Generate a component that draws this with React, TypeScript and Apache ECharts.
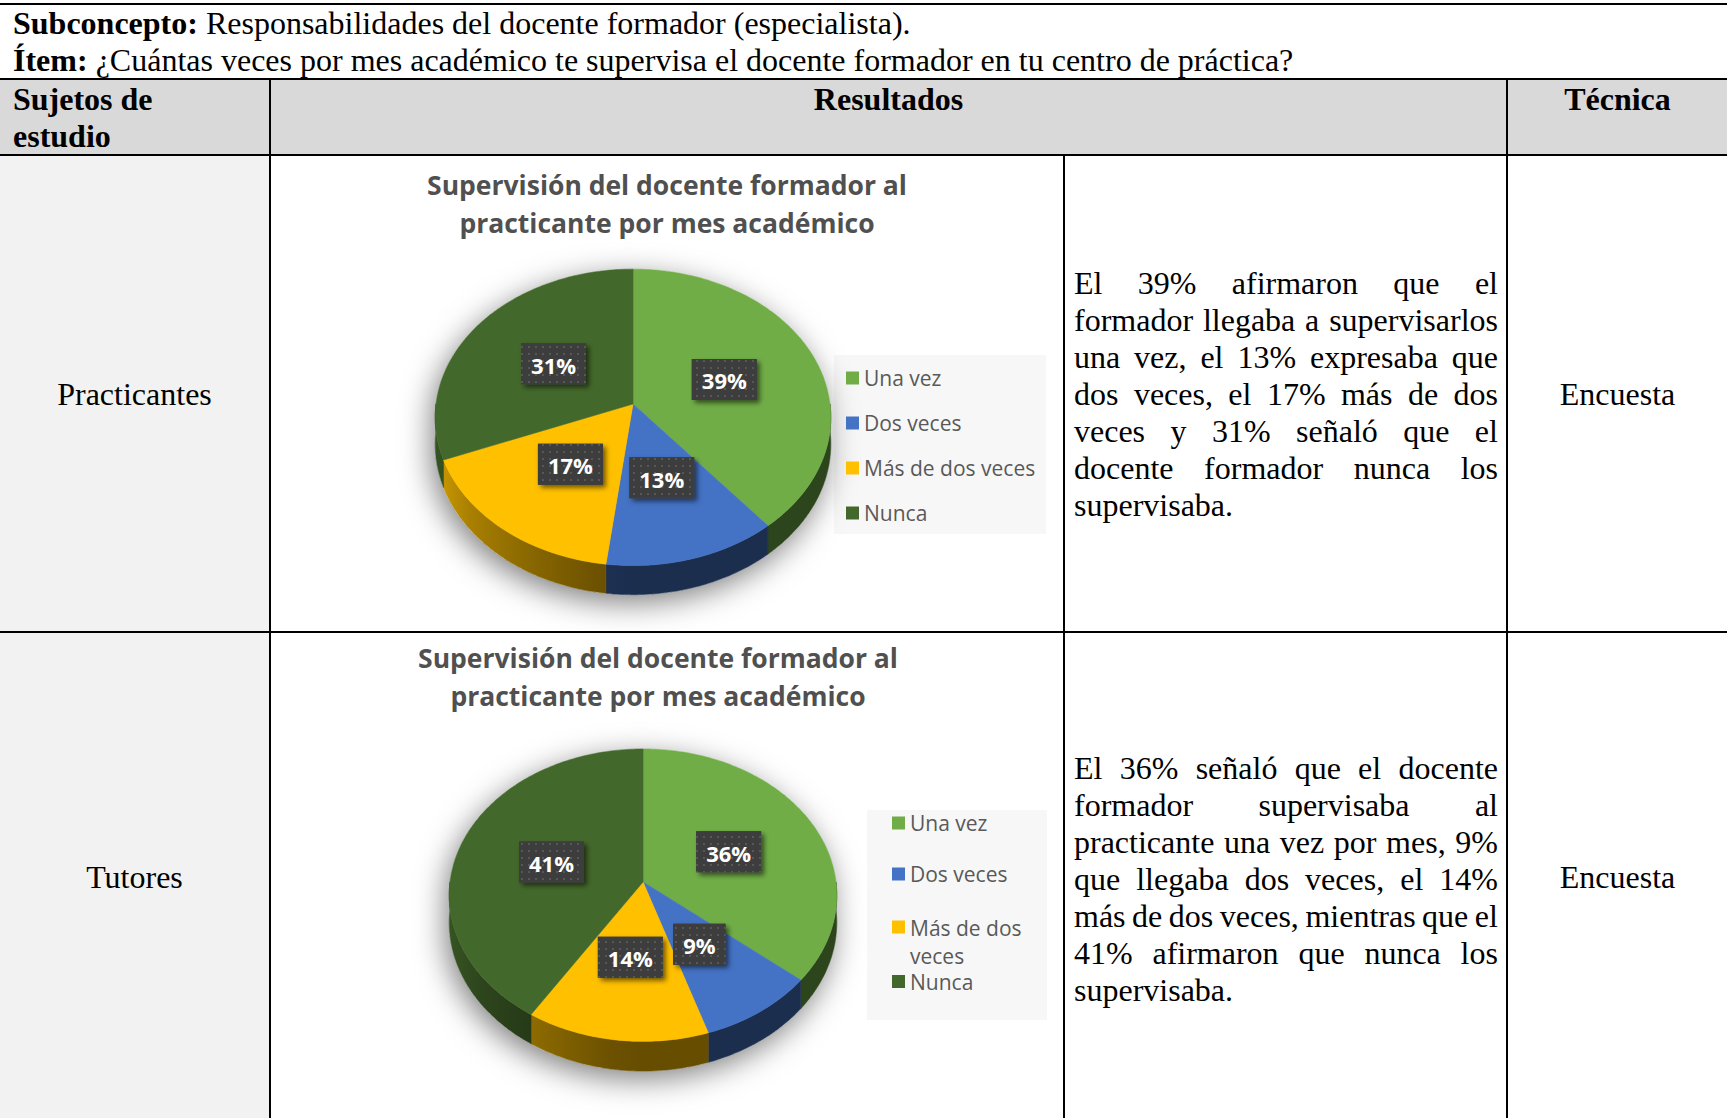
import React, { useEffect, useRef } from 'react';
import * as echarts from 'echarts';

// ---------- data ----------
const categories = ['Una vez', 'Dos veces', 'Más de dos veces', 'Nunca'];
const practicantesValues = [39, 13, 17, 31];
const tutoresValues = [36, 9, 14, 41];
const sliceColors = ['#70AD47', '#4472C4', '#FFC000', '#43682B'];
const chartTitle = 'Supervisión del docente formador al\npracticante por mes académico';

const practicantesLines = [
  'El 39% afirmaron que el',
  'formador llegaba a supervisarlos',
  'una vez, el 13% expresaba que',
  'dos veces, el 17% más de dos',
  'veces y 31% señaló que el',
  'docente formador nunca los',
  'supervisaba.',
];
const tutoresLines = [
  'El 36% señaló que el docente',
  'formador supervisaba al',
  'practicante una vez por mes, 9%',
  'que llegaba dos veces, el 14%',
  'más de dos veces, mientras que el',
  '41% afirmaron que nunca los',
  'supervisaba.',
];

// ---------- helpers ----------
const SERIF = '"Liberation Serif", "Times New Roman", serif';

type Geom = { cx: number; cy: number; A: number; B: number; k: number; H: number };

function shadeColor(hex: string, f: number) {
  const n = parseInt(hex.slice(1), 16);
  const r = Math.round(((n >> 16) & 255) * f);
  const g = Math.round(((n >> 8) & 255) * f);
  const b = Math.round((n & 255) * f);
  return `rgb(${r},${g},${b})`;
}

function wallFactor(deg: number) {
  if (deg <= 185) return 0.4;
  if (deg >= 262) return 0.8;
  return 0.4 + (0.4 * (deg - 185)) / 77;
}

let measureCanvas: HTMLCanvasElement | null = null;
function measureText(text: string, font: string) {
  if (!measureCanvas) measureCanvas = document.createElement('canvas');
  const ctx = measureCanvas.getContext('2d')!;
  ctx.font = font;
  return ctx.measureText(text).width;
}

let patternCanvas: HTMLCanvasElement | null = null;
function getPattern() {
  if (!patternCanvas) {
    const c = document.createElement('canvas');
    c.width = 7;
    c.height = 7;
    const ctx = c.getContext('2d')!;
    ctx.fillStyle = '#3d3d3d';
    ctx.fillRect(0, 0, 7, 7);
    ctx.fillStyle = '#575757';
    ctx.fillRect(3, 3, 2, 2);
    patternCanvas = c;
  }
  return patternCanvas;
}

function buildPie3D(name: string, values: number[], g: Geom) {
  const total = values.reduce((a, b) => a + b, 0);
  const starts: number[] = [];
  let acc = 0;
  values.forEach((v) => {
    starts.push(acc);
    acc += v;
  });
  const TAU = Math.PI * 2;
  const proj = (th: number, t: number, drop: boolean) => {
    const s = Math.sin(th);
    const c = Math.cos(th);
    const den = 1 + g.k * t * c;
    return [g.cx + (g.A * t * s) / den, g.cy - (g.B * t * c) / den + (drop ? g.H / den : 0)];
  };
  const arc = (a0: number, a1: number, drop: boolean) => {
    const n = Math.max(2, Math.ceil((a1 - a0) / (Math.PI / 180)));
    const pts: number[][] = [];
    for (let j = 0; j <= n; j++) pts.push(proj(a0 + ((a1 - a0) * j) / n, 1, drop));
    return pts;
  };
  const labelFont = 'bold 22px "Open Sans"';

  return {
    type: 'custom',
    name,
    coordinateSystem: 'none',
    silent: true,
    data: values.map((v, i) => ({ value: v, name: categories[i] })),
    renderItem: (params: any, api: any) => {
      const i = params.dataIndex;
      const v = api.value(0);
      const a0 = (starts[i] / total) * TAU;
      const a1 = a0 + (v / total) * TAU;
      const base = sliceColors[i];
      const children: any[] = [];
      if (i === 0) {
        const outline = arc(-Math.PI / 2, Math.PI / 2, false).concat(arc(Math.PI / 2, (3 * Math.PI) / 2, true));
        children.push({
          type: 'polygon',
          shape: { points: outline },
          style: {
            fill: '#ffffff',
            shadowBlur: 30,
            shadowColor: 'rgba(0,0,0,0.5)',
            shadowOffsetX: -4,
            shadowOffsetY: 8,
          },
          z2: 0,
        });
      }
      // outer wall (front half only)
      const w0 = Math.max(a0, Math.PI / 2);
      const w1 = Math.min(a1, (3 * Math.PI) / 2);
      if (w1 > w0) {
        const top = arc(w0, w1, false);
        const bottom = arc(w0, w1, true).reverse();
        const stops: any[] = [];
        for (let j = 0; j <= 12; j++) {
          const u = j / 12;
          const th = Math.PI - Math.asin(2 * u - 1);
          stops.push({ offset: u, color: shadeColor(base, wallFactor((th * 180) / Math.PI)) });
        }
        const grad = { type: 'linear', x: g.cx - g.A, y: 0, x2: g.cx + g.A, y2: 0, global: true, colorStops: stops };
        children.push({
          type: 'polygon',
          shape: { points: top.concat(bottom) },
          style: { fill: grad, stroke: grad, lineWidth: 0.6 },
          z2: 1,
        });
      }
      // top face
      const facePts = [proj(0, 0, false)].concat(arc(a0, a1, false));
      children.push({
        type: 'polygon',
        shape: { points: facePts },
        style: { fill: base, stroke: base, lineWidth: 0.6 },
        z2: 2,
      });
      // data label
      const mid = (a0 + a1) / 2;
      const pos = proj(mid, 0.5, false);
      const txt = Math.round((v / total) * 100) + '%';
      const w = measureText(txt, labelFont) + 20;
      const h = 41;
      const rect = { x: pos[0] - w / 2, y: pos[1] - h / 2, width: w, height: h };
      children.push({
        type: 'rect',
        shape: rect,
        style: {
          fill: '#3d3d3d',
          shadowBlur: 5,
          shadowColor: 'rgba(0,0,0,0.55)',
          shadowOffsetX: 3,
          shadowOffsetY: 3,
        },
        z2: 100,
      });
      children.push({
        type: 'rect',
        shape: rect,
        style: { fill: { image: getPattern(), repeat: 'repeat' } },
        z2: 101,
      });
      children.push({
        type: 'text',
        x: pos[0],
        y: pos[1] + 1,
        style: {
          text: txt,
          fill: '#ffffff',
          fontFamily: 'Open Sans',
          fontWeight: 'bold',
          fontSize: 22,
          align: 'center',
          verticalAlign: 'middle',
        },
        z2: 102,
      });
      return { type: 'group', children };
    },
  };
}

// ---------- chart ----------
function PieCharts() {
  const ref = useRef<HTMLDivElement>(null);
  useEffect(() => {
    if (!ref.current) return;
    const chart = echarts.init(ref.current, null, { renderer: 'svg' });
    const legendText = { fontFamily: 'Open Sans', fontSize: 21, color: '#595959' };
    const legendBase = {
      orient: 'vertical',
      padding: 0,
      itemWidth: 13,
      itemHeight: 13,
      icon: 'rect',
      selectedMode: false,
      itemStyle: { borderWidth: 0 },
    };
    const dummySeries = categories.map((c, i) => ({
      type: 'custom',
      name: c,
      coordinateSystem: 'none',
      data: [],
      renderItem: () => null,
      itemStyle: { color: sliceColors[i] },
    }));
    const titleStyle = { fontFamily: 'Open Sans', fontWeight: 'bold', fontSize: 26.5, lineHeight: 38, color: '#505050' };
    chart.setOption({
      animation: false,
      backgroundColor: 'transparent',
      color: sliceColors,
      title: [
        { text: chartTitle, left: 667, top: 166, textAlign: 'center', textVerticalAlign: 'top', padding: 0, textStyle: titleStyle },
        { text: chartTitle, left: 658, top: 639, textAlign: 'center', textVerticalAlign: 'top', padding: 0, textStyle: titleStyle },
      ],
      graphic: [
        { type: 'rect', shape: { x: 834, y: 355, width: 212, height: 179 }, style: { fill: '#f7f7f7' }, z: 0 },
        { type: 'rect', shape: { x: 867, y: 810, width: 180, height: 210 }, style: { fill: '#f7f7f7' }, z: 0 },
      ],
      legend: [
        {
          ...legendBase,
          data: categories,
          left: 846,
          top: 366,
          itemGap: 21,
          textStyle: { ...legendText, lineHeight: 24 },
        },
        {
          ...legendBase,
          data: categories.slice(0, 2),
          left: 892,
          top: 808,
          itemGap: 21,
          textStyle: { ...legendText, lineHeight: 30 },
        },
        {
          ...legendBase,
          data: categories.slice(2, 3),
          left: 892,
          top: 914,
          itemHeight: 43,
          icon: 'path://M0,0H13V13H0Z M0,43L0,43',
          formatter: () => 'Más de dos\nveces',
          textStyle: { ...legendText, lineHeight: 28 },
        },
        {
          ...legendBase,
          data: categories.slice(3),
          left: 892,
          top: 971,
          textStyle: { ...legendText, lineHeight: 16 },
        },
      ],
      series: [
        ...dummySeries,
        buildPie3D('Practicantes', practicantesValues, { cx: 633, cy: 404, A: 197, B: 147, k: 0.09, H: 26.5 }),
        buildPie3D('Tutores', tutoresValues, { cx: 643, cy: 882, A: 193, B: 145, k: 0.09, H: 27 }),
      ],
    });
    return () => chart.dispose();
  }, []);
  return <div ref={ref} style={{ position: 'absolute', left: 0, top: 0, width: 1727, height: 1118 }} />;
}

// ---------- table pieces ----------
function HLine({ top, left = 0, width = 1727, h = 2 }: any) {
  return <div style={{ position: 'absolute', left, top, width, height: h, background: '#000' }} />;
}
function VLine({ left, top, bottom = 1118, w = 2 }: any) {
  return <div style={{ position: 'absolute', left, top, width: w, height: bottom - top, background: '#000' }} />;
}
function Txt({ left, top, width, align = 'left', bold = false, children }: any) {
  return (
    <div
      style={{
        position: 'absolute',
        left,
        top,
        width,
        textAlign: align,
        fontWeight: bold ? 'bold' : 'normal',
        fontSize: 32,
        lineHeight: '37px',
        whiteSpace: 'pre',
      }}
    >
      {children}
    </div>
  );
}
function Paragraph({ lines, firstCenter }: { lines: string[]; firstCenter: number }) {
  return (
    <>
      {lines.map((ln, i) => {
        const last = i === lines.length - 1;
        const words = ln.split(' ');
        return (
          <div
            key={i}
            style={{
              position: 'absolute',
              left: 1074,
              width: 424,
              top: firstCenter + i * 37 - 18.5,
              height: 37,
              lineHeight: '37px',
              fontSize: 32,
              display: 'flex',
              justifyContent: last ? 'flex-start' : 'space-between',
              whiteSpace: 'pre',
            }}
          >
            {last ? ln : words.map((w, j) => <span key={j}>{w}</span>)}
          </div>
        );
      })}
    </>
  );
}

export default function App() {
  useEffect(() => {
    document.body.style.margin = '0';
  }, []);
  return (
    <div
      style={{
        position: 'absolute',
        left: 0,
        top: 0,
        width: 1727,
        height: 1118,
        overflow: 'hidden',
        background: '#ffffff',
        fontFamily: SERIF,
        color: '#000',
      }}
    >
      {/* backgrounds */}
      <div style={{ position: 'absolute', left: 0, top: 80, width: 1727, height: 74, background: '#d9d9d9' }} />
      <div style={{ position: 'absolute', left: 0, top: 156, width: 269, height: 962, background: '#f2f2f2' }} />
      {/* rules */}
      <HLine top={3} />
      <HLine top={78} />
      <HLine top={154} />
      <HLine top={631} />
      <VLine left={269} top={78} />
      <VLine left={1063} top={154} />
      <VLine left={1506} top={78} />
      {/* heading lines */}
      <Txt left={13} top={5}>
        <b>Subconcepto:</b> Responsabilidades del docente formador (especialista).
      </Txt>
      <Txt left={13} top={42}>
        <b>Ítem:</b> ¿Cuántas veces por mes académico te supervisa el docente formador en tu centro de práctica?
      </Txt>
      {/* header row */}
      <Txt left={13} top={81} bold>
        {'Sujetos de\nestudio'}
      </Txt>
      <Txt left={271} top={81} width={1235} align="center" bold>
        Resultados
      </Txt>
      <Txt left={1508} top={81} width={219} align="center" bold>
        Técnica
      </Txt>
      {/* body rows */}
      <Txt left={0} top={375.5} width={269} align="center">
        Practicantes
      </Txt>
      <Txt left={1508} top={375.5} width={219} align="center">
        Encuesta
      </Txt>
      <Txt left={0} top={858.5} width={269} align="center">
        Tutores
      </Txt>
      <Txt left={1508} top={858.5} width={219} align="center">
        Encuesta
      </Txt>
      <Paragraph lines={practicantesLines} firstCenter={283.5} />
      <Paragraph lines={tutoresLines} firstCenter={768} />
      <PieCharts />
    </div>
  );
}
